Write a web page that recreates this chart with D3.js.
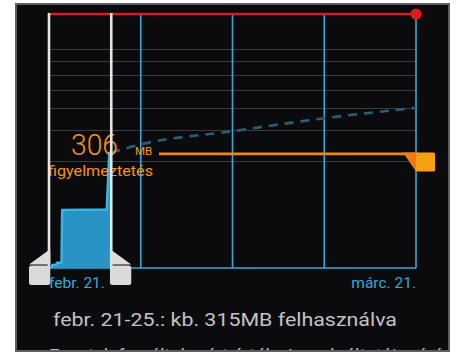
<!DOCTYPE html>
<html>
<head>
<meta charset="utf-8">
<script src="https://cdn.jsdelivr.net/npm/d3@7"></script>
<style>
  html, body { margin: 0; padding: 0; background: #ffffff; }
  svg { display: block; font-family: Roboto, "Noto Sans", sans-serif; }
</style>
</head>
<body>
<svg id="chart" width="458" height="354"></svg>
<script>
// Billing cycle: days counted from febr. 21.
const cycleDays = [0, 28];
const weekLines = [0, 7, 14, 21, 28];
const cycleLabels = ["febr. 21.", "márc. 21."];

// Horizontal grid every 256 MB
const gridMB = [256, 512, 768, 1024, 1280, 1536, 1792];

// Cumulative usage (MB) inside the inspected range
const usageDays = [0, 0.2, 0.25, 0.55, 0.6, 0.95, 1.0, 4.4, 4.6, 4.75];
const usageMB   = [0, 0, 0.016, 0.016, 0.075, 0.075, 49, 50, 315, 315];

// Projected usage until the end of the cycle
const estimateDays = [4.75, 7, 14, 21, 28];
const estimateMB   = [315, 380, 500, 640, 767];

// Sweeps
const inspectStartDay = 0;
const inspectEndDay = 4.75;
const warningMB = 306;
const limitMB = 2680;

const warningValue = "306";
const warningUnit = "MB";
const warningCaption = "figyelmeztetés";
const summaryText = "febr. 21-25.: kb. 315MB felhasználva";
const disclaimerText = "Ez a telefon által mért érték. A szolgáltatói mérés eltérhet.";

const svg = d3.select("#chart");

// Chart geometry
const plot = { left: 49, right: 416, top: 14, bottom: 268 };

const x = d3.scaleLinear().domain(cycleDays).range([plot.left, plot.right]);
// Data axis compresses large values so small amounts stay visible
const y = d3.scalePow().exponent(0.3688).domain([0, limitMB]).range([plot.bottom, plot.top]);

// Frame
svg.append("rect")
  .attr("x", 16).attr("y", 4).attr("width", 433).attr("height", 347)
  .attr("fill", "#0b0b0d").attr("stroke", "#5e5e60").attr("stroke-width", 2);

svg.append("clipPath").attr("id", "frameClip")
  .append("rect").attr("x", 17).attr("y", 5).attr("width", 431).attr("height", 345);

// Grid lines
svg.append("g").selectAll("line").data(gridMB).join("line")
  .attr("x1", plot.left).attr("x2", plot.right)
  .attr("y1", d => Math.round(y(d)) + 0.5).attr("y2", d => Math.round(y(d)) + 0.5)
  .attr("stroke", "#3b3b3e").attr("stroke-width", 1);

// Week lines
svg.append("g").selectAll("line").data(weekLines).join("line")
  .attr("x1", d => x(d)).attr("x2", d => x(d))
  .attr("y1", plot.top).attr("y2", plot.bottom)
  .attr("stroke", "#3aa8d8").attr("stroke-width", 1.6);

// Baseline
svg.append("line")
  .attr("x1", plot.left).attr("x2", plot.right)
  .attr("y1", plot.bottom).attr("y2", plot.bottom)
  .attr("stroke", "#3aa8d8").attr("stroke-width", 1.6);

// Projection (dashed)
const estimate = estimateDays.map((d, i) => [d, estimateMB[i]]);
svg.append("path")
  .datum(estimate)
  .attr("d", d3.line().x(d => x(d[0])).y(d => y(d[1])).curve(d3.curveMonotoneX))
  .attr("fill", "none")
  .attr("stroke", "#285f78")
  .attr("stroke-width", 2.6)
  .attr("stroke-dasharray", "9,7");

// Usage area
svg.append("clipPath").attr("id", "inspectClip")
  .append("rect")
  .attr("x", x(inspectStartDay)).attr("y", plot.top)
  .attr("width", x(inspectEndDay) - x(inspectStartDay)).attr("height", plot.bottom - plot.top);

const usage = usageDays.map((d, i) => [d, usageMB[i]]);
const ug = svg.append("g").attr("clip-path", "url(#inspectClip)");
ug.append("path")
  .datum(usage)
  .attr("d", d3.area().x(d => x(d[0])).y0(y(0)).y1(d => y(d[1])))
  .attr("fill", "#2a93c6");
ug.append("path")
  .datum(usage)
  .attr("d", d3.line().x(d => x(d[0])).y(d => y(d[1])))
  .attr("fill", "none")
  .attr("stroke", "#36b7ea")
  .attr("stroke-width", 2.4)
  .attr("stroke-linejoin", "round");

// Warning sweep
const wy = y(warningMB);
const xEnd = x(cycleDays[1]);
svg.append("line")
  .attr("x1", 159).attr("x2", xEnd + 2)
  .attr("y1", wy).attr("y2", wy)
  .attr("stroke", "#f0870f").attr("stroke-width", 2.6);
svg.append("path")
  .attr("d", `M${xEnd - 13},${wy - 1.3} L${xEnd + 1},${wy - 1.3} L${xEnd + 1},${wy + 17.5} L${xEnd},${wy + 17.5} Z`)
  .attr("fill", "#ee7a12");
svg.append("rect")
  .attr("x", xEnd).attr("y", wy - 1.3).attr("width", 19).attr("height", 18.8)
  .attr("rx", 1.5)
  .attr("fill", "#f79f12");

svg.append("text")
  .attr("x", 71).attr("y", wy + 1)
  .attr("fill", "#f39419")
  .attr("font-size", 30).attr("font-weight", 300)
  .attr("textLength", 47).attr("lengthAdjust", "spacingAndGlyphs")
  .text(warningValue);
svg.append("text")
  .attr("x", 135).attr("y", wy + 1)
  .attr("fill", "#f39419")
  .attr("font-size", 11.5)
  .text(warningUnit);
svg.append("text")
  .attr("x", 48).attr("y", wy + 22)
  .attr("fill", "#f39419")
  .attr("font-size", 15)
  .attr("textLength", 105).attr("lengthAdjust", "spacingAndGlyphs")
  .text(warningCaption);

// Limit sweep
const ly = y(limitMB);
svg.append("line")
  .attr("x1", plot.left - 1).attr("x2", plot.right)
  .attr("y1", ly).attr("y2", ly)
  .attr("stroke", "#cf1f22").attr("stroke-width", 2.6);
svg.append("circle")
  .attr("cx", plot.right).attr("cy", ly).attr("r", 5.5)
  .attr("fill", "#e0191f");

// Inspect range sweeps
const sweeps = [
  { day: inspectStartDay, dir: -1 },
  { day: inspectEndDay, dir: 1 }
];
const sg = svg.append("g");
sweeps.forEach(s => {
  const sx = x(s.day);
  sg.append("line")
    .attr("x1", sx).attr("x2", sx)
    .attr("y1", plot.top - 1).attr("y2", plot.bottom)
    .attr("stroke", "#e6e6e6").attr("stroke-width", 2.6);
  const far = sx + s.dir * 20;
  const near = sx - s.dir * 1.3;
  sg.append("path")
    .attr("d", `M${near},250 L${sx},250 L${far},264.5 L${near},264.5 Z`)
    .attr("fill", "#dcdcdc");
  const rx0 = Math.min(near, far), rw = Math.abs(far - near);
  sg.append("rect")
    .attr("x", rx0).attr("y", 265.5).attr("width", rw).attr("height", 19.5)
    .attr("rx", 2.5)
    .attr("fill", "#dadada");
});

// Cycle labels
svg.append("text")
  .attr("x", plot.left).attr("y", 288)
  .attr("fill", "#33a9d9").attr("font-size", 15.5)
  .text(cycleLabels[0]);
svg.append("text")
  .attr("x", plot.right).attr("y", 288)
  .attr("text-anchor", "end")
  .attr("fill", "#33a9d9").attr("font-size", 15.5)
  .text(cycleLabels[1]);

// Summary
svg.append("text")
  .attr("x", 53).attr("y", 326)
  .attr("fill", "#c2c2c2").attr("font-size", 18.5)
  .attr("textLength", 344).attr("lengthAdjust", "spacingAndGlyphs")
  .text(summaryText);

// Disclaimer, scrolled mostly below the panel edge
svg.append("text")
  .attr("clip-path", "url(#frameClip)")
  .attr("x", 49).attr("y", 362)
  .attr("fill", "#bdbdbd").attr("font-size", 18.5)
  .text(disclaimerText);
</script>
</body>
</html>
